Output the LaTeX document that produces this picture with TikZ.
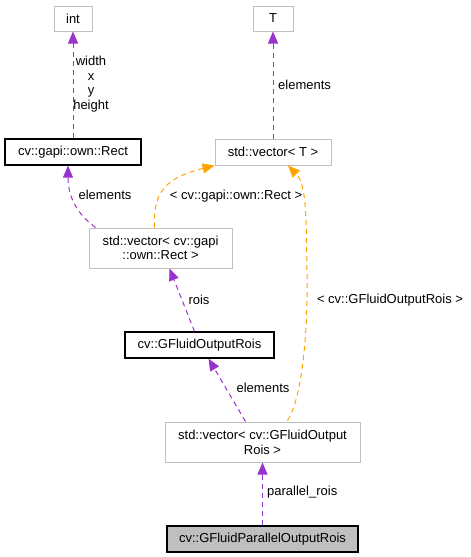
\documentclass[tikz,border=0pt]{standalone}
\usepackage{fontspec}
\setmainfont{Liberation Sans}
\usetikzlibrary{arrows.meta,calc}
\definecolor{edgepurple}{HTML}{9A32CD}
\definecolor{edgeorange}{HTML}{FFA500}
\definecolor{boxgray}{HTML}{BFBFBF}
\begin{document}
\begin{tikzpicture}[x=1pt,y=-1pt,
  every node/.style={font=\fontsize{13}{14.7}\selectfont, inner sep=0pt, align=center},
  graybox/.style={draw=boxgray, line width=1pt, fill=white},
  blackbox/.style={draw=black, line width=1.2pt, fill=white},
  mainbox/.style={draw=black, line width=1.2pt, fill=boxgray},
  pe/.style={draw=edgepurple, line width=1pt, dash pattern=on 5pt off 4pt, -{Triangle[length=12pt,width=10pt]}},
  oe/.style={draw=edgeorange, line width=1pt, dash pattern=on 5pt off 4pt, -{Triangle[length=12pt,width=10pt]}},
  lbl/.style={fill=none}
]
\useasboundingbox (0,0) rectangle (471,557);
% nodes
\node[graybox, minimum width=38pt, minimum height=25pt] (int) at (73,18.5) {int};
\node[graybox, minimum width=40pt, minimum height=25pt] (T) at (273,18.5) {T};
\node[blackbox, minimum width=136pt, minimum height=26pt] (rect) at (73,152) {cv::gapi::own::Rect};
\node[graybox, minimum width=116pt, minimum height=26pt] (vecT) at (273,152) {std::vector< T >};
\node[graybox, minimum width=143pt, minimum height=40pt] (vecRect) at (160.5,248) {std::vector< cv::gapi\\::own::Rect >};
\node[blackbox, minimum width=149pt, minimum height=26pt] (gfor) at (199.5,345) {cv::GFluidOutputRois};
\node[graybox, minimum width=195pt, minimum height=40pt] (vecGF) at (262.5,442) {std::vector< cv::GFluidOutput\\Rois >};
\node[mainbox, minimum width=191pt, minimum height=26pt] (main) at (262.5,539) {cv::GFluidParallelOutputRois};
% edges
\draw[pe] (rect.north) -- (int.south);
\node[lbl] (l1) at (91,84) {width\\x\\y\\height};
\draw[pe] (vecT.north) -- (T.south);
\node[lbl, anchor=west] (l2) at (278,85) {elements};
\draw[pe] ($(vecRect.north west)+(7,0)$) .. controls (80,216) and (68,200) .. ($(rect.south)+(-5,0)$);
\node[lbl] (l3) at (105,195) {elements};
\draw[oe] ($(vecRect.north west)+(66,0)$) .. controls (153,192) and (165,178) .. (vecT.south west);
\node[lbl] (l4) at (236,196) {< cv::gapi::own::Rect >};
\draw[pe] ($(gfor.north)+(-5,0)$) -- ($(vecRect.south)+(9,0)$);
\node[lbl] (l5) at (199,300) {rois};
\draw[pe] ($(vecGF.north)+(-17,0)$) -- ($(gfor.south)+(9,0)$);
\node[lbl] (l6) at (263,388) {elements};
\draw[oe] ($(vecGF.north)+(25,-1)$) .. controls (304,395) and (308,320) .. (307,270)
  .. controls (306,220) and (307,185) .. ($(vecT.south)+(15,0)$);
\node[lbl] (l7) at (390,300) {< cv::GFluidOutputRois >};
\draw[pe] (main.north) -- (vecGF.south);
\node[lbl, anchor=west] (l8) at (267,492) {parallel\_rois};
\end{tikzpicture}
\end{document}
